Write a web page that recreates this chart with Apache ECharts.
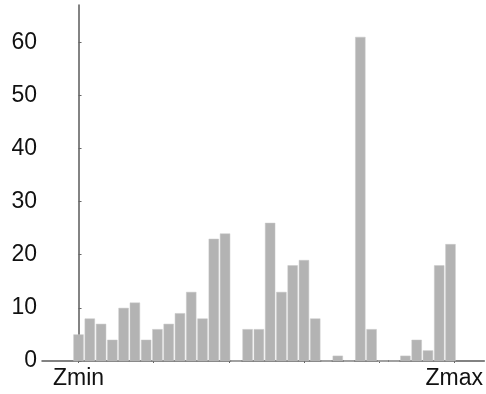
<!DOCTYPE html>
<html>
<head>
<meta charset="utf-8">
<style>
  html, body { margin: 0; padding: 0; background: #fff; }
  #chart { width: 486px; height: 394px; }
</style>
<script src="https://cdn.jsdelivr.net/npm/echarts@6/dist/echarts.min.js"></script>
</head>
<body>
<div id="chart"></div>
<script>
// Bin positions (bin index) and counts
const binIndex = [0,1,2,3,4,5,6,7,8,9,10,11,12,13,14,15,16,17,18,19,20,21,22,23,24,25,26,27,28,29,30,31,32,33];
const counts   = [5,8,7,4,10,11,4,6,7,9,13,8,23,24,0,6,6,26,13,18,19,8,0,1,0,61,6,0,0,1,4,2,18,22];
// x-axis tick positions and the two labelled ends
const xTickValues = [0, 20/3, 40/3, 20, 80/3, 100/3];
const xLabelValues = [0, 100/3];
const xLabelTexts = ['Zmin', 'Zmax'];
// y-axis ticks
const yTickValues = [0, 10, 20, 30, 40, 50, 60];

const chart = echarts.init(document.getElementById('chart'), null, { renderer: 'canvas' });
const font = 'Liberation Sans, Arial, sans-serif';

chart.setOption({
  animation: false,
  backgroundColor: '#ffffff',
  grid: { left: 42, right: 0, top: 5, bottom: 33, containLabel: false },
  xAxis: {
    type: 'value',
    min: -3.24,
    max: 36,
    axisLine: { show: true, onZero: false, lineStyle: { color: '#5a5a5a', width: 1.5 } },
    axisTick: { show: true, length: 2, lineStyle: { color: '#666' }, customValues: xTickValues },
    axisLabel: {
      show: true,
      customValues: xLabelValues,
      formatter: function (v) {
        const i = xLabelValues.findIndex(function (x) { return Math.abs(x - v) < 1e-6; });
        return i >= 0 ? xLabelTexts[i] : '';
      },
      fontFamily: font,
      fontSize: 23,
      color: '#111111',
      margin: 6
    },
    splitLine: { show: false }
  },
  yAxis: {
    type: 'value',
    min: 0,
    max: 67,
    axisLine: { show: true, lineStyle: { color: '#5a5a5a', width: 1.5 } },
    axisTick: { show: true, inside: true, length: 3, lineStyle: { color: '#666' }, customValues: yTickValues },
    axisLabel: {
      show: true,
      customValues: yTickValues,
      fontFamily: font,
      fontSize: 23,
      color: '#111111',
      margin: 5
    },
    splitLine: { show: false }
  },
  series: [{
    type: 'bar',
    data: binIndex.map(function (x, i) { return [x, counts[i]]; }),
    barWidth: 10.3,
    itemStyle: { color: '#b3b3b3', borderColor: '#c8c8c8', borderWidth: 0.5 }
  }]
});
</script>
</body>
</html>
